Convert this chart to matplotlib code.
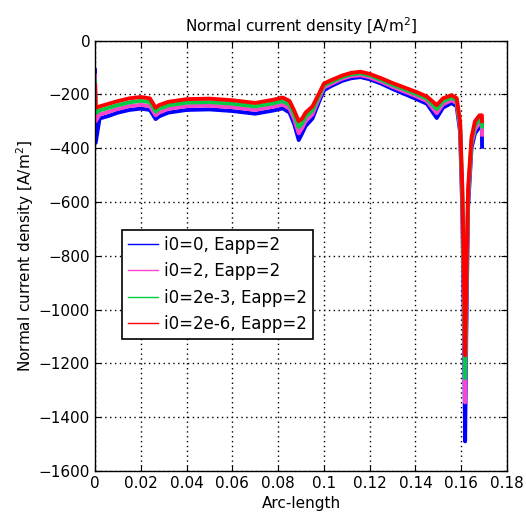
import matplotlib
matplotlib.use("Agg")
import matplotlib.pyplot as plt

# Arc-length sample points (shared by all series)
arc = [0, 0.0003, 0.002, 0.006, 0.01, 0.015, 0.02, 0.024, 0.0265, 0.028,
       0.032, 0.04, 0.05, 0.06, 0.07, 0.078, 0.082, 0.085, 0.087, 0.089,
       0.0905, 0.092, 0.095, 0.098, 0.1, 0.103, 0.108, 0.112, 0.116, 0.12,
       0.125, 0.13, 0.135, 0.14, 0.145, 0.1493, 0.152, 0.1558, 0.158, 0.1595,
       0.1605, 0.1612, 0.1617, 0.1622, 0.163, 0.1645, 0.166, 0.168, 0.169, 0.1691]

# i0=0, Eapp=2
j_i0_0 = [-110, -380, -290, -280, -268, -258, -253, -258, -292, -282,
          -268, -258, -256, -262, -272, -260, -252, -268, -310, -370,
          -345, -318, -290, -225, -185, -170, -150, -140, -136, -144,
          -160, -180, -198, -216, -235, -288, -250, -232, -245, -340,
          -650, -1100, -1490, -1100, -620, -400, -345, -322, -320, -395]

# i0=2, Eapp=2
j_i0_2 = [-130, -300, -275, -265, -254, -244, -239, -244, -278, -268,
          -254, -244, -242, -248, -258, -246, -238, -253, -292, -345,
          -325, -300, -274, -213, -175, -162, -142, -132, -129, -137,
          -153, -172, -189, -206, -225, -270, -237, -222, -233, -325,
          -610, -1000, -1345, -1000, -590, -385, -330, -308, -305, -350]

# i0=2e-3, Eapp=2
j_i0_2e3 = [-150, -270, -260, -250, -240, -230, -224, -229, -264, -254,
            -241, -231, -229, -235, -245, -233, -225, -239, -276, -322,
            -308, -284, -260, -204, -167, -155, -136, -126, -122, -130,
            -146, -165, -181, -198, -216, -255, -226, -212, -223, -312,
            -580, -950, -1255, -950, -570, -372, -315, -293, -291, -320]

# i0=2e-6, Eapp=2
j_i0_2e6 = [-165, -250, -245, -235, -225, -215, -210, -215, -250, -240,
            -228, -218, -216, -222, -232, -220, -212, -225, -260, -300,
            -290, -268, -245, -195, -160, -148, -130, -120, -116, -124,
            -140, -158, -174, -190, -208, -240, -215, -203, -214, -300,
            -550, -900, -1170, -900, -550, -360, -300, -278, -278, -300]

labels = ["i0=0, Eapp=2", "i0=2, Eapp=2", "i0=2e-3, Eapp=2", "i0=2e-6, Eapp=2"]
colors = ["#0000ff", "#ff44cc", "#00cc44", "#ff0000"]

plt.rcParams["font.family"] = ["DejaVu Sans"]
plt.rcParams["font.size"] = 10.5

fig = plt.figure(figsize=(5.26, 5.27), dpi=100)
ax = fig.add_axes([0.1806, 0.1063, 0.7833, 0.8168])

series = [j_i0_0, j_i0_2, j_i0_2e3, j_i0_2e6]
for ys, lab, c in zip(series, labels, colors):
    ax.plot(arc, ys, color=c, lw=2.8, label=lab, solid_joinstyle="round")

ax.set_xlim(0, 0.18)
ax.set_ylim(-1600, 0)
ax.set_xticks([0, 0.02, 0.04, 0.06, 0.08, 0.1, 0.12, 0.14, 0.16, 0.18])
ax.set_xticklabels(["0", "0.02", "0.04", "0.06", "0.08", "0.1", "0.12", "0.14", "0.16", "0.18"])
ax.set_yticks(range(-1600, 1, 200))
ax.grid(True, color="black", linestyle=(0, (1, 2.5)), linewidth=1)
ax.tick_params(direction="in", length=4, top=True, right=True, labelsize=11)
for s in ax.spines.values():
    s.set_linewidth(1)

ax.set_title("Normal current density [A/m$^2$]", fontsize=11, pad=6)
ax.set_xlabel("Arc-length", fontsize=11)
ax.set_ylabel("Normal current density [A/m$^2$]", fontsize=11, labelpad=2)

leg = ax.legend(loc="lower left", bbox_to_anchor=(0.066, 0.307), fancybox=False,
                framealpha=1, edgecolor="black", fontsize=12, handlelength=1.8,
                borderpad=0.35, labelspacing=0.5, handletextpad=0.35,
                borderaxespad=0)
leg.get_frame().set_linewidth(1.2)
for ln in leg.get_lines():
    ln.set_linewidth(1)

fig.savefig("out.png", dpi=100)
